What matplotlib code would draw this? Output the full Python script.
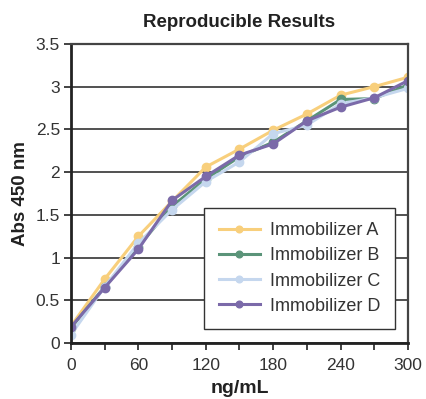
import numpy as np
import matplotlib.pyplot as plt

plt.rcParams['font.family'] = ['Liberation Sans', 'DejaVu Sans']

conc = [0, 30, 60, 90, 120, 150, 180, 210, 240, 270, 300]
imm_a = [0.20, 0.75, 1.25, 1.66, 2.06, 2.27, 2.49, 2.68, 2.90, 3.00, 3.11]
imm_b = [0.18, 0.66, 1.13, 1.60, 1.92, 2.18, 2.35, 2.60, 2.85, 2.86, 3.02]
imm_c = [0.10, 0.66, 1.17, 1.56, 1.89, 2.12, 2.45, 2.55, 2.80, 2.87, 2.98]
imm_d = [0.19, 0.65, 1.10, 1.67, 1.95, 2.20, 2.33, 2.60, 2.76, 2.87, 3.07]
names = ['Immobilizer A', 'Immobilizer B', 'Immobilizer C', 'Immobilizer D']
colors = ['#f8cf7c', '#5b9479', '#c5d7ee', '#7b6aa9']

fig = plt.figure(figsize=(4.26, 3.99), dpi=100)
ax = fig.add_axes([0.1667, 0.140, 0.791, 0.750])

for vals, name, c in zip([imm_a, imm_b, imm_c, imm_d], names, colors):
    ax.plot(conc, vals, color=c, lw=2.2, marker='o', ms=6, label=name)

ax.set_xlim(0, 300)
ax.set_ylim(0, 3.5)
ax.set_xticks([0, 60, 120, 180, 240, 300])
ax.set_xticks(np.arange(0, 301, 30), minor=True)
ax.set_yticks(np.arange(0, 3.51, 0.5))
ax.set_yticklabels(['0', '0.5', '1', '1.5', '2', '2.5', '3', '3.5'])
ax.yaxis.grid(True, color='#333333', lw=1.2)
ax.set_axisbelow(True)
ax.tick_params(axis='both', which='both', direction='out', length=5, width=1.2,
               labelsize=12.5, colors='#222222', labelcolor='#333333')
ax.tick_params(axis='x', which='both', pad=6)
ax.tick_params(axis='y', pad=3)
for s in ['left', 'bottom']:
    ax.spines[s].set_linewidth(2)
    ax.spines[s].set_color('#222222')
for s in ['top', 'right']:
    ax.spines[s].set_linewidth(1.6)
    ax.spines[s].set_color('#444444')

ax.set_title('Reproducible Results', fontsize=13.5, fontweight='bold', pad=12,
             color='#222222')
ax.set_xlabel('ng/mL', fontsize=14, fontweight='bold', labelpad=5, color='#222222')
ax.set_ylabel('Abs 450 nm', fontsize=13.5, fontweight='bold', labelpad=5, color='#222222')

leg = ax.legend(loc='upper left', bbox_to_anchor=(0.395, 0.452), fontsize=13,
                frameon=True, fancybox=False, edgecolor='#333333',
                handlelength=2.3, markerscale=0.8, borderpad=0.8, labelspacing=0.45,
                handletextpad=0.55, borderaxespad=0)
leg.get_frame().set_linewidth(1.0)
leg.get_frame().set_alpha(1)
for t in leg.get_texts():
    t.set_color('#333333')

fig.savefig('out.png', dpi=100)
